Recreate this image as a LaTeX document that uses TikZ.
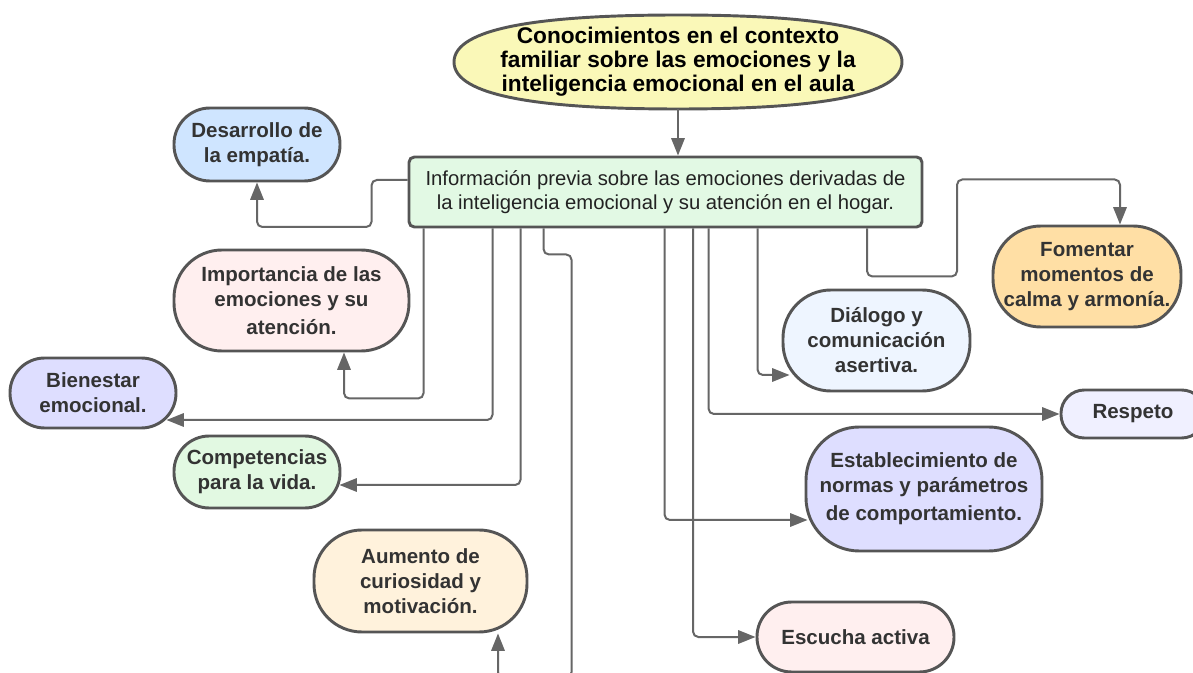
\documentclass[tikz,border=0pt]{standalone}
\usepackage{fontspec}
\setmainfont{Liberation Sans}
\usetikzlibrary{arrows.meta,calc}
\definecolor{linegray}{HTML}{666666}
\definecolor{bordergray}{HTML}{555555}
\definecolor{txt}{HTML}{333333}
\definecolor{topfill}{HTML}{FAF8B8}
\definecolor{cenfill}{HTML}{E2F9E4}
\definecolor{desfill}{HTML}{CFE5FF}
\definecolor{pinkfill}{HTML}{FFEFEF}
\definecolor{lavfill}{HTML}{DEDEFF}
\definecolor{greenfill}{HTML}{E2F9E2}
\definecolor{creamfill}{HTML}{FFF2DC}
\definecolor{orangefill}{HTML}{FFDFA5}
\definecolor{paleblue}{HTML}{EEF5FF}
\definecolor{palelav}{HTML}{F0F0FF}
\begin{document}
\begin{tikzpicture}[x=0.75pt,y=-0.75pt,
  lbl/.style={draw=bordergray, line width=2.2pt, text=txt,
    font=\fontsize{15.4}{18.75}\selectfont\bfseries, align=center, inner sep=0pt},
  conn/.style={draw=linegray, line width=1.5pt, rounded corners=4pt,
    -{Triangle[length=13pt,width=10pt]}},
]
\useasboundingbox[fill=white] (0,0) rectangle (1193,673);

% top shape
\path[draw=bordergray, fill=topfill, line width=2.2pt]
  (454,62) .. controls (454,28) and (540,15) .. (678,15)
  .. controls (816,15) and (902,28) .. (902,62)
  .. controls (902,96) and (816,109) .. (678,109)
  .. controls (540,109) and (454,96) .. (454,62) -- cycle;
\node[minimum width=336pt, minimum height=70.5pt, inner sep=0pt, align=center,
  font=\fontsize{17}{18}\selectfont\bfseries] (top) at (678,62)
  {Conocimientos en el contexto\\familiar sobre las emociones y la\\inteligencia emocional en el aula};

\node[draw=bordergray, fill=cenfill, line width=2.2pt, rounded corners=4pt,
  minimum width=384.75pt, minimum height=52.5pt, inner sep=0pt, align=center,
  text={rgb,255:red,34;green,34;blue,34}, font=\fontsize{15.2}{17.5}\selectfont] (central) at (665.5,192)
  {Información previa sobre las emociones derivadas de\\la inteligencia emocional y su atención en el hogar.};

\node[lbl, fill=desfill, minimum width=124.5pt, minimum height=54.75pt, rounded corners=27pt] (des) at (257,144.5) {Desarrollo de\\la empatía.};
\node[lbl, fill=pinkfill, minimum width=176.25pt, minimum height=75.75pt, rounded corners=36pt] (imp) at (291.5,300.5) {Importancia de las\\emociones y su\\[2pt]atención.};
\node[lbl, fill=lavfill, minimum width=124.5pt, minimum height=52.5pt, rounded corners=26pt] (bien) at (93,393) {Bienestar\\emocional.};
\node[lbl, fill=greenfill, minimum width=124.5pt, minimum height=54pt, rounded corners=26.5pt] (comp) at (257,472) {Competencias\\para la vida.};
\node[lbl, fill=creamfill, minimum width=159.75pt, minimum height=76.5pt, rounded corners=36pt] (aum) at (420.5,581) {Aumento de\\curiosidad y\\motivación.};
\node[lbl, fill=orangefill, minimum width=141pt, minimum height=75.75pt, rounded corners=36pt] (fom) at (1087,276.5) {Fomentar\\momentos de\\calma y armonía.};
\node[lbl, fill=paleblue, minimum width=140.25pt, minimum height=75.75pt, rounded corners=36pt] (dia) at (876.5,340.5) {Diálogo y\\comunicación\\asertiva.};
\node[lbl, fill=palelav, minimum width=108pt, minimum height=36pt, rounded corners=17.5pt] (resp) at (1133,414) {Respeto};
\node[lbl, fill=lavfill, minimum width=177pt, minimum height=93pt, rounded corners=40pt] (est) at (924,489) {Establecimiento de\\normas y parámetros\\[2pt]de comportamiento.};
\node[lbl, fill=pinkfill, minimum width=147.75pt, minimum height=52.5pt, rounded corners=26pt] (esc) at (855.5,637) {Escucha activa};

% connectors
\draw[conn] (top.south) -- (top.south |- central.north);
\draw[conn] ([yshift=9pt]central.west) -- ++(-36,0) -- ++(0,47) -| (des.south);
\draw[conn] ($(central.south west)+(16,0)$) -- ++(0,170) -| ($(imp.south)+(52.5,0)$);
\draw[conn] ($(central.south west)+(85,0)$) |- ($(bien.east)+(-11,27)$);
\draw[conn] ($(central.south west)+(113,0)$) |- ($(comp.east)+(-2,13)$);
\draw[conn] ($(central.south west)+(136,0)$) -- ++(0,26) -- ++(28,0) -- ++(0,423) -| ($(aum.south)+(77.5,0)$);
\draw[conn] ($(central.south west)+(459.5,0)$) -- ++(0,48) -- ++(90,0) -- ++(0,-97) -| ($(fom.north)+(33,0)$);
\draw[conn] ($(central.south west)+(350,0)$) |- ($(dia.west)+(8,34.5)$);
\draw[conn] ($(central.south west)+(301,0)$) |- (resp.west);
\draw[conn] ($(central.south west)+(285.5,0)$) |- (esc.west);
\draw[conn] ($(central.south west)+(257,0)$) |- ($(est.west)+(3,31)$);
\end{tikzpicture}
\end{document}
